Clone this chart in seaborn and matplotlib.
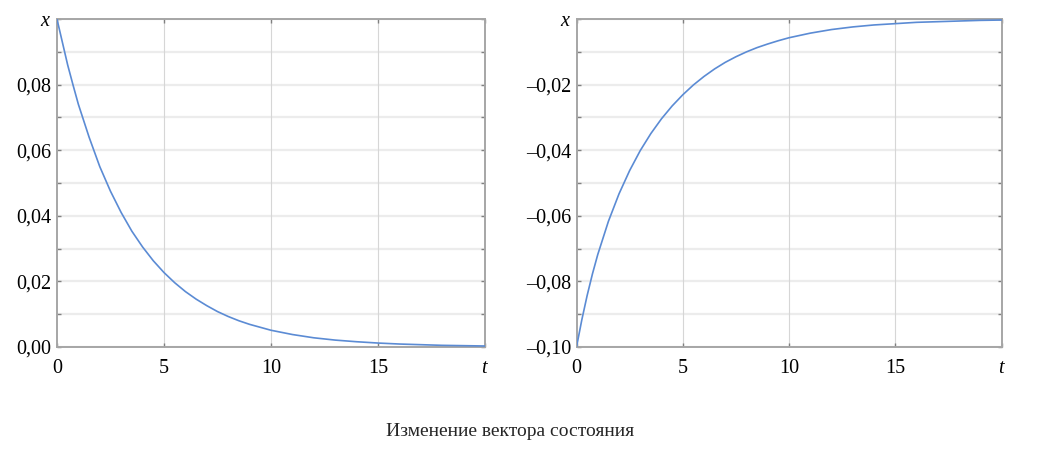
import numpy as np
import pandas as pd
import matplotlib
matplotlib.use("Agg")
import matplotlib.pyplot as plt
import seaborn as sns

# Время t и значения x(t)
t_vals = [0, 0.25, 0.5, 0.75, 1, 1.5, 2, 2.5, 3, 3.5, 4, 4.5, 5, 5.5, 6,
          6.5, 7, 7.5, 8, 8.5, 9, 9.5, 10, 11, 12, 13, 14, 15, 16, 17, 18, 19, 20]
x_left = [0.100, 0.093, 0.086, 0.0799, 0.074, 0.064, 0.055, 0.0475, 0.041, 0.0353,
          0.0305, 0.0263, 0.0227, 0.0196, 0.0169, 0.0146, 0.0126, 0.0108,
          0.0093, 0.0080, 0.0069, 0.0060, 0.0051, 0.0038, 0.0028, 0.0021,
          0.0016, 0.0012, 0.0009, 0.0007, 0.0005, 0.0004, 0.0003]
x_right = [-0.100, -0.0917, -0.0843, -0.0777, -0.0718, -0.0617, -0.0533,
           -0.0462, -0.0401, -0.0349, -0.0304, -0.0265, -0.0231, -0.0201,
           -0.0175, -0.0152, -0.0132, -0.0115, -0.0100, -0.0087, -0.0076,
           -0.0066, -0.0057, -0.0043, -0.0032, -0.0024, -0.0018, -0.0014,
           -0.0010, -0.0008, -0.0006, -0.0004, -0.0003]

x_ticks = [0, 5, 10, 15, 20]
x_ticklabels = ["0", "5", "10", "15", "$t$"]
y_ticks_left = [0.0, 0.02, 0.04, 0.06, 0.08, 0.10]
y_labels_left = ["0,00", "0,02", "0,04", "0,06", "0,08", "$x$"]
y_ticks_right = [-0.10, -0.08, -0.06, -0.04, -0.02, 0.0]
y_labels_right = ["\u20130,10", "\u20130,08", "\u20130,06", "\u20130,04", "\u20130,02", "$x$"]
caption = "Изменение вектора состояния"

sns.set_style("white")
plt.rcParams["font.family"] = ["Liberation Serif", "DejaVu Serif"]
plt.rcParams["mathtext.fontset"] = "custom"
plt.rcParams["mathtext.it"] = "Liberation Serif:italic"
plt.rcParams["mathtext.rm"] = "Liberation Serif"

df = pd.DataFrame({"t": t_vals, "left": x_left, "right": x_right})

fig = plt.figure(figsize=(10.53, 4.58), dpi=100)
ax1 = fig.add_axes([0.0541, 0.2424, 0.4065, 0.716])
ax2 = fig.add_axes([0.5475, 0.2424, 0.4036, 0.716])

line_color = "#5b8bd4"

def oformit(ax, col, yticks, ylabels, ylim):
    # горизонтальная сетка через 0,01, вертикальная через 5
    for yv in np.arange(ylim[0], ylim[1] + 1e-9, 0.01):
        ax.axhline(yv, color="#ececec", lw=1.6, zorder=0)
    for xv in [5, 10, 15]:
        ax.axvline(xv, color="#d6d6d6", lw=0.8, zorder=0)
    sns.lineplot(data=df, x="t", y=col, ax=ax, color=line_color, lw=1.2, zorder=3)
    ax.set_xlim(0, 20)
    ax.set_ylim(*ylim)
    ax.set_xticks(x_ticks)
    ax.set_xticklabels(x_ticklabels)
    ax.set_yticks(yticks)
    ax.set_yticklabels(ylabels)
    ax.set_yticks(np.arange(ylim[0], ylim[1] + 1e-9, 0.01), minor=True)
    ax.tick_params(axis="both", which="both", direction="in", colors="#808080",
                   labelcolor="black", labelsize=14.5, length=3, width=1,
                   top=True, right=True, left=True, bottom=True)
    ax.tick_params(axis="x", pad=9)
    ax.tick_params(axis="y", pad=4)
    ax.set_xlabel("")
    ax.set_ylabel("")
    for sp in ax.spines.values():
        sp.set_color("#a6a6a6")
        sp.set_linewidth(1.4)

oformit(ax1, "left", y_ticks_left, y_labels_left, (0.0, 0.10))
oformit(ax2, "right", y_ticks_right, y_labels_right, (-0.10, 0.0))

fig.text(0.484, 0.057, caption, ha="center", va="center", fontsize=14)

fig.savefig("out.png", dpi=100)
